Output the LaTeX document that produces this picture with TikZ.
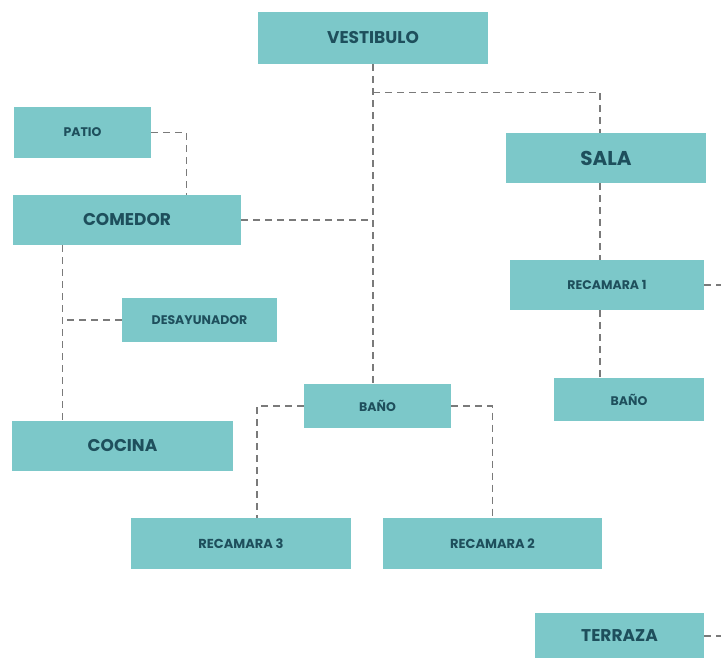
\documentclass[tikz,border=0pt]{standalone}
\usepackage{fontspec}
\setmainfont{Poppins}
\usetikzlibrary{positioning,calc}
\definecolor{roomfill}{HTML}{7CC8C9}
\definecolor{roomtext}{HTML}{1E4F5C}
\definecolor{linkgray}{HTML}{7A7A7A}

\begin{document}
\begin{tikzpicture}[
  x=1pt, y=-1pt,
  room/.style={rectangle, fill=roomfill, text=roomtext, inner sep=0pt, align=center},
  huge/.style={room, font=\fontsize{20}{24}\selectfont\bfseries},
  big/.style={room, font=\fontsize{17}{20}\selectfont\bfseries},
  mid/.style={room, font=\fontsize{13}{15}\selectfont\bfseries},
  small/.style={room, font=\fontsize{12.5}{15}\selectfont\bfseries},
  link/.style={draw=linkgray, line width=1.2pt, dash pattern=on 7pt off 5pt}
]
  \useasboundingbox (0,0) rectangle (721,658);

  \node[big, minimum width=230, minimum height=52] (vest) at (373,38) {VESTIBULO};
  \node[small, minimum width=137, minimum height=51] (patio) at (82.5,132.5) {PATIO};
  \node[big, minimum width=228, minimum height=50] (comedor) at (127,220) {COMEDOR};
  \node[huge, minimum width=200, minimum height=50] (sala) at (606,158) {SALA};
  \node[small, minimum width=194, minimum height=50] (rec1) at (607,285) {RECAMARA 1};
  \node[small, minimum width=155, minimum height=44] (desay) at (199.5,320) {DESAYUNADOR};
  \node[small, minimum width=147, minimum height=44] (bano) at (377.5,406) {BAÑO};
  \node[small, minimum width=150, minimum height=43] (bano2) at (629,399.5) {BAÑO};
  \node[big, minimum width=221, minimum height=50] (cocina) at (122.5,446) {COCINA};
  \node[mid, minimum width=220, minimum height=51] (rec3) at (241,543.5) {RECAMARA 3};
  \node[mid, minimum width=219, minimum height=51] (rec2) at (492.5,543.5) {RECAMARA 2};
  \node[big, minimum width=169, minimum height=46] (terraza) at (619.5,636) {TERRAZA};

  \coordinate (col) at (600,0);
  \coordinate (edge) at (721,0);

  \draw[link] (vest.south) -- (vest.south |- bano.north);
  \draw[link] (vest.south) ++(0,28) coordinate (j1) -| (sala.north -| col);
  \draw[link] (comedor.east) -- (comedor.east -| vest.south);
  \draw[link] (patio.east) -- ++(35,0) coordinate (p1) -- (p1 |- comedor.north);
  \draw[link] (comedor.south west) ++(50,0) coordinate (c1) -- (c1 |- cocina.north);
  \draw[link] (desay.west) -- (desay.west -| c1);
  \draw[link] (sala.south -| col) -- (rec1.north -| col);
  \draw[link] (rec1.south -| col) -- (bano2.north -| col);
  \draw[link] (rec1.east) -- (rec1.east -| edge);
  \draw[link] (bano.west) -| ([xshift=16]rec3.north);
  \draw[link] (bano.east) -| (rec2.north);
  \draw[link] (terraza.east) -- (terraza.east -| edge);
\end{tikzpicture}
\end{document}
